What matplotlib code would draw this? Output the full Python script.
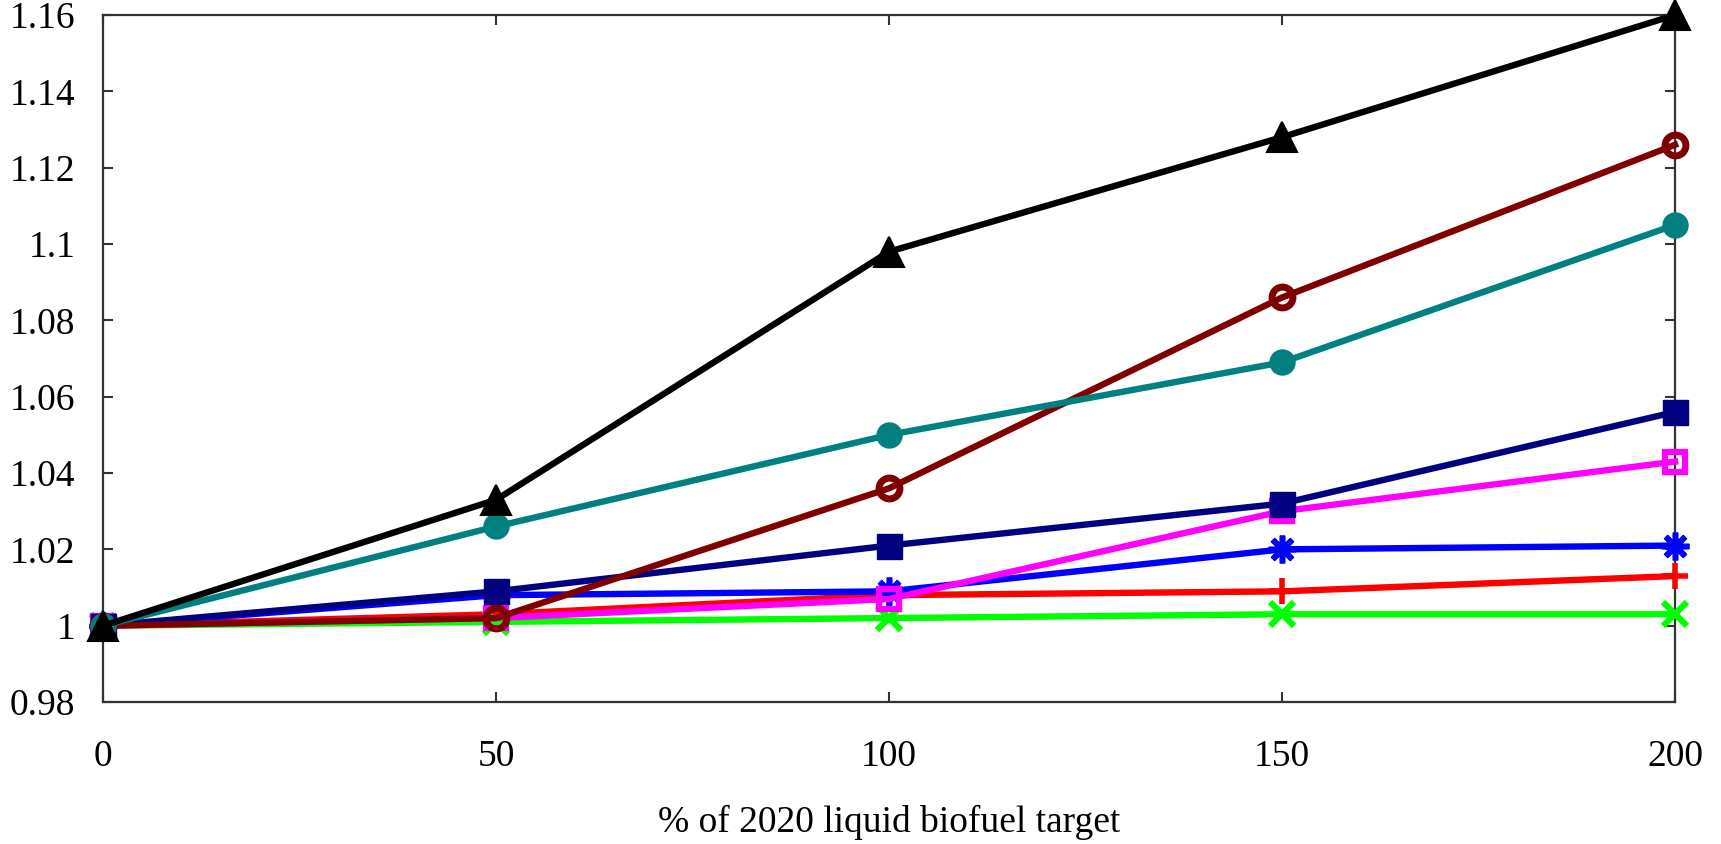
import matplotlib
matplotlib.use("Agg")
import matplotlib.pyplot as plt
from matplotlib.ticker import FuncFormatter, MultipleLocator

# Index relative to the baseline scenario, for each share of the 2020 liquid biofuel target
target_pct = [0, 50, 100, 150, 200]

red_plus = [1.000, 1.003, 1.008, 1.009, 1.013]
green_x = [1.000, 1.001, 1.002, 1.003, 1.003]
blue_star = [1.000, 1.008, 1.009, 1.020, 1.021]
magenta_sq = [1.000, 1.002, 1.007, 1.030, 1.043]
navy_sq = [1.000, 1.009, 1.021, 1.032, 1.056]
darkred_circ = [1.000, 1.002, 1.036, 1.086, 1.126]
teal_circ = [1.000, 1.026, 1.050, 1.069, 1.105]
black_tri = [1.000, 1.033, 1.098, 1.128, 1.160]

plt.rcParams['font.family'] = ['Liberation Serif', 'DejaVu Serif']

fig = plt.figure(figsize=(17.21, 8.44), dpi=100)
ax = fig.add_axes([0.0599, 0.1682, 0.9134, 0.814])

lw = 4.6
# series in drawing order (later ones sit on top): values, colour, marker, fill, size, edge width
series = [
    (red_plus, '#ff0000', '+', 'full', 19, 4.0),
    (green_x, '#00ff00', 'x', 'full', 17, 4.5),
    (blue_star, '#0000ff', (8, 2, 0), 'full', 20, 4.0),
    (magenta_sq, '#ff00ff', 's', 'none', 15, 4.5),
    (navy_sq, '#000080', 's', 'full', 18, 1.0),
    (darkred_circ, '#800000', 'o', 'none', 15, 5.0),
    (teal_circ, '#008080', 'o', 'full', 18, 1.0),
    (black_tri, '#000000', '^', 'full', 22, 1.5),
]
for i, (vals, col, mk, fill, ms, mew) in enumerate(series):
    ax.plot(target_pct, vals, color=col, lw=lw, marker=mk, ms=ms,
            fillstyle=fill, mew=mew, mec=col, mfc=col if fill == 'full' else 'white',
            zorder=3 + i, clip_on=False)

ax.set_xlim(0, 200)
ax.set_ylim(0.98, 1.16)
ax.xaxis.set_major_locator(MultipleLocator(50))
ax.yaxis.set_major_locator(MultipleLocator(0.02))
ax.yaxis.set_major_formatter(FuncFormatter(lambda v, p: '%g' % round(v, 4)))

for s in ax.spines.values():
    s.set_color('#333333')
    s.set_linewidth(1.6)
ax.tick_params(axis='both', direction='in', length=7, width=1.5, color='#333333',
               labelsize=27, top=True, right=True)
ax.tick_params(axis='y', pad=20)
ax.tick_params(axis='x', pad=27)

ax.set_xlabel('% of 2020 liquid biofuel target', fontsize=27, labelpad=22)

fig.savefig('out.png', dpi=100)
